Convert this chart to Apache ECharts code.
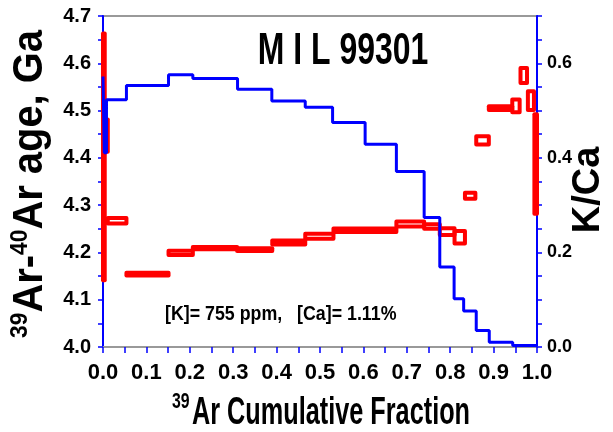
<!DOCTYPE html>
<html><head><meta charset="utf-8">
<script src="https://cdn.jsdelivr.net/npm/echarts@6/dist/echarts.min.js"></script>
<style>html,body{margin:0;padding:0;background:#fff}#c{width:613px;height:432px}</style>
</head><body><div id="c"></div>
<script>
// ---- Data: 39Ar-40Ar age steps (red boxes, left axis, Ga) ----
const ageFracStart = [0.000, 0.004, 0.011, 0.054, 0.151, 0.207, 0.309, 0.390, 0.466, 0.531, 0.676, 0.740, 0.776, 0.810, 0.834, 0.860, 0.889, 0.943, 0.962, 0.979, 0.994];
const ageFracEnd   = [0.004, 0.011, 0.054, 0.151, 0.207, 0.309, 0.390, 0.466, 0.531, 0.676, 0.740, 0.776, 0.810, 0.834, 0.858, 0.889, 0.943, 0.960, 0.977, 0.993, 1.000];
const ageValues    = [4.402, 4.447, 4.267, 4.154, 4.199, 4.209, 4.206, 4.221, 4.234, 4.247, 4.260, 4.255, 4.244, 4.232, 4.320, 4.437, 4.505, 4.510, 4.574, 4.521, 4.387];
const ageErrors    = [0.261, 0.034, 0.006, 0.003, 0.0046, 0.0025, 0.003, 0.004, 0.0053, 0.0038, 0.0053, 0.0048, 0.0073, 0.0133, 0.0063, 0.0088, 0.004, 0.0135, 0.0158, 0.0198, 0.105];
// ---- Data: K/Ca steps (blue line, right axis) ----
const kcaEdges  = [0, 0.003, 0.008, 0.054, 0.151, 0.207, 0.310, 0.389, 0.466, 0.529, 0.604, 0.676, 0.740, 0.776, 0.809, 0.831, 0.860, 0.890, 0.944, 1.000];
const kcaValues = [0.572, 0.411, 0.523, 0.553, 0.576, 0.568, 0.545, 0.520, 0.507, 0.475, 0.429, 0.371, 0.274, 0.169, 0.102, 0.076, 0.035, 0.010, 0.003];
// ---- Text ----
const titleText = 'M I L 99301';
const noteText = '[K]= 755 ppm,   [Ca]= 1.11%';
const xTitleSup = '39';
const xTitleMain = 'Ar Cumulative Fraction';
const yTitleRich = '{s|39}{m|Ar-}{s|40}{m|Ar age, Ga}';
const y2Title = 'K/Ca';

const BLUE = '#0000ff', RED = '#ff0000', GRAY = '#999999';
const F = "'Liberation Sans', Arial, sans-serif";
const FN = "'Liberation Sans Narrow', 'Arial Narrow', 'Liberation Sans', Arial, sans-serif";

const boxData = ageFracStart.map((s, i) => [s, ageFracEnd[i], ageValues[i], ageErrors[i]]);
const kcaLine = [];
kcaValues.forEach((v, i) => { kcaLine.push([kcaEdges[i], v]); kcaLine.push([kcaEdges[i + 1], v]); });

const chart = echarts.init(document.getElementById('c'), null, {renderer: 'canvas'});
const lbl = (size, fam) => ({color: '#000', fontWeight: 'bold', fontSize: size, fontFamily: fam});

chart.setOption({
  animation: false,
  backgroundColor: '#fff',
  grid: {left: 103, right: 76, top: 16, bottom: 85, show: true, borderColor: GRAY, borderWidth: 2, backgroundColor: 'transparent'},
  xAxis: {
    type: 'value', min: 0, max: 1, interval: 0.05,
    axisLine: {show: true, lineStyle: {color: GRAY, width: 2}},
    axisTick: {show: true, length: 6, lineStyle: {color: BLUE, width: 1.5}},
    splitLine: {show: false},
    axisLabel: Object.assign({interval: 0, margin: 15,
      formatter: v => (Math.round(v * 100) % 10 === 0 ? v.toFixed(1) : '')}, lbl(22, FN))
  },
  yAxis: [{
    type: 'value', min: 4.0, max: 4.7, interval: 0.05,
    axisLine: {show: true, lineStyle: {color: BLUE, width: 2}},
    axisTick: {show: true, length: 5, lineStyle: {color: BLUE, width: 1.5}},
    splitLine: {show: false},
    axisLabel: Object.assign({interval: 0, margin: 12,
      formatter: v => (Math.round(v * 100) % 10 === 0 ? v.toFixed(1) : '')}, lbl(20, F))
  }, {
    type: 'value', position: 'right', min: 0, max: 0.7, interval: 0.05,
    axisLine: {show: true, lineStyle: {color: BLUE, width: 2}},
    axisTick: {show: true, length: 5, lineStyle: {color: BLUE, width: 1.5}},
    splitLine: {show: false},
    axisLabel: Object.assign({interval: 0, margin: 10,
      formatter: v => { const k = Math.round(v * 100); return (k % 20 === 0 && k <= 60) ? v.toFixed(1) : ''; }}, lbl(18, FN))
  }],
  series: [{
    type: 'custom', name: 'Age', xAxisIndex: 0, yAxisIndex: 0, clip: false, z: 2,
    data: boxData,
    encode: {x: [0, 1], y: [2]},
    renderItem: (params, api) => {
      const p1 = api.coord([api.value(0), api.value(2) + api.value(3)]);
      const p2 = api.coord([api.value(1), api.value(2) - api.value(3)]);
      return {type: 'rect',
        shape: {x: p1[0], y: p1[1], width: p2[0] - p1[0], height: p2[1] - p1[1]},
        style: {fill: 'none', stroke: RED, lineWidth: 4, lineJoin: 'round'}};
    }
  }, {
    type: 'line', name: 'K/Ca', xAxisIndex: 0, yAxisIndex: 1, z: 3,
    data: kcaLine, showSymbol: false, symbol: 'none',
    lineStyle: {color: BLUE, width: 3}
  }],
  graphic: [
    {type: 'text', x: 343, y: 51.5, scaleX: 0.71, z: 10,
      style: {text: titleText, fontSize: 45, fontWeight: 'bold', fontFamily: F, fill: '#000',
        textAlign: 'center', textVerticalAlign: 'middle', align: 'center', verticalAlign: 'middle'}},
    {type: 'text', x: 165, y: 314, scaleX: 0.89, z: 10,
      style: {text: noteText, fontSize: 20, fontWeight: 'bold', fontFamily: F, fill: '#000',
        textAlign: 'left', textVerticalAlign: 'middle', align: 'left', verticalAlign: 'middle'}},
    {type: 'text', x: 172, y: 402, scaleX: 0.72, z: 10,
      style: {text: xTitleSup, fontSize: 22, fontWeight: 'bold', fontFamily: F, fill: '#000',
        textAlign: 'left', textVerticalAlign: 'middle', align: 'left', verticalAlign: 'middle'}},
    {type: 'text', x: 192, y: 414, scaleX: 0.665, z: 10,
      style: {text: xTitleMain, fontSize: 38, fontWeight: 'bold', fontFamily: F, fill: '#000',
        textAlign: 'left', textVerticalAlign: 'middle', align: 'left', verticalAlign: 'middle'}},
    {type: 'text', x: 30, y: 184, rotation: Math.PI / 2, scaleX: 0.95, z: 10,
      style: {text: yTitleRich, fill: '#000', textAlign: 'center', textVerticalAlign: 'middle', align: 'center', verticalAlign: 'middle',
        rich: {
          m: {fontSize: 42, fontWeight: 'bold', fontFamily: F, lineHeight: 44, fill: '#000'},
          s: {fontSize: 24, fontWeight: 'bold', fontFamily: F, lineHeight: 31, verticalAlign: 'top', fill: '#000'}
        }}},
    {type: 'text', x: 589, y: 190, rotation: Math.PI / 2, z: 10,
      style: {text: y2Title, fontSize: 38, fontWeight: 'bold', fontFamily: F, fill: '#000',
        textAlign: 'center', textVerticalAlign: 'middle', align: 'center', verticalAlign: 'middle'}}
  ]
});
</script>
</body></html>
